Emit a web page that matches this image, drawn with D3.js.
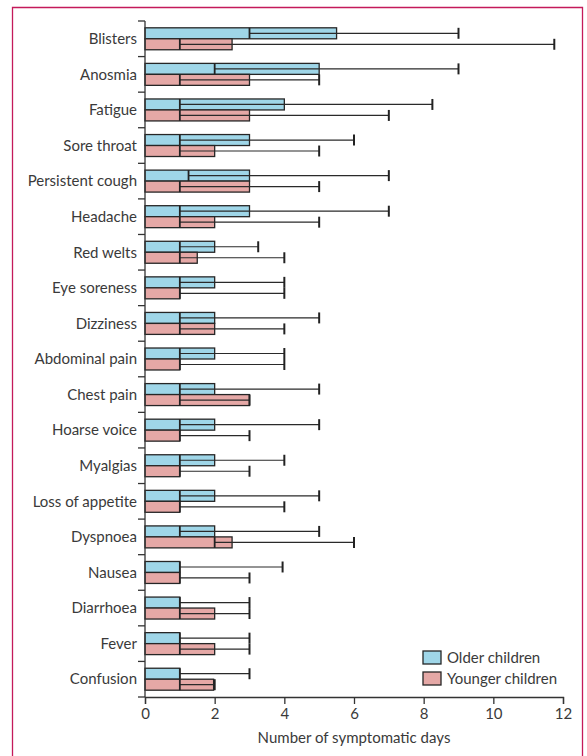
<!DOCTYPE html>
<html>
<head>
<meta charset="utf-8">
<script src="https://cdn.jsdelivr.net/npm/d3@7"></script>
<style>
  html, body { margin: 0; padding: 0; background: #fff; }
  svg { display: block; }
  text { font-family: Lato, "Open Sans", sans-serif; fill: #3a3a3a; }
</style>
</head>
<body>
<script>
const categories = ["Blisters","Anosmia","Fatigue","Sore throat","Persistent cough","Headache","Red welts","Eye soreness","Dizziness","Abdominal pain","Chest pain","Hoarse voice","Myalgias","Loss of appetite","Dyspnoea","Nausea","Diarrhoea","Fever","Confusion"];
const seriesNames = ["Older children","Younger children"];
// bar end, inner line, whisker end
const olderBar     = [5.5,5,4,3,3,3,2,2,2,2,2,2,2,2,2,1,1,1,1];
const olderMedian  = [3,2,1,1,1.25,1,1,1,1,1,1,1,1,1,1,1,1,1,1];
const olderMax     = [9,9,8.25,6,7,7,3.25,4,5,4,5,5,4,5,5,3.95,3,3,3];
const youngerBar    = [2.5,3,3,2,3,2,1.5,1,2,1,3,1,1,1,2.5,1,2,2,1.97];
const youngerMedian = [1,1,1,1,1,1,1,1,1,1,1,1,1,1,2,1,1,1,1];
const youngerMax    = [11.75,5,7,5,5,5,4,4,4,4,3,3,3,4,6,3,3,3,2];
const xTicks = [0,2,4,6,8,10,12];
const colors = ["#9fd6e8","#e5a8a6"];

const W = 587, H = 756;
const svg = d3.select("body").append("svg").attr("width", W).attr("height", H);

// frame
svg.append("path")
  .attr("d", `M12.5,${H+5} V7.5 H582.5 V${H+5}`)
  .attr("fill","none").attr("stroke","#c41a5a").attr("stroke-width",1.3);

const x = d3.scaleLinear().domain([0,12]).range([145,563]);
const y = d3.scaleBand().domain(categories).range([21,697]).padding(0);
const sub = d3.scaleBand().domain(seriesNames).range([0, y.bandwidth()]).paddingInner(0).paddingOuter(0.62);

const series = [
  {name: seriesNames[0], bar: olderBar, med: olderMedian, max: olderMax, color: colors[0]},
  {name: seriesNames[1], bar: youngerBar, med: youngerMedian, max: youngerMax, color: colors[1]}
];

const g = svg.append("g");
series.forEach(s => {
  categories.forEach((c, i) => {
    const y0 = y(c) + sub(s.name);
    const h = sub.bandwidth();
    const ym = y0 + h/2;
    g.append("rect").attr("x", x(0)).attr("y", y0).attr("width", x(s.bar[i]) - x(0)).attr("height", h)
      .attr("fill", s.color).attr("stroke", "#262626").attr("stroke-width", 1.3);
    g.append("line").attr("x1", x(s.med[i])).attr("x2", x(s.max[i])).attr("y1", ym).attr("y2", ym)
      .attr("stroke", "#2a2a2a").attr("stroke-width", 1.2);
    g.append("line").attr("x1", x(s.med[i])).attr("x2", x(s.med[i])).attr("y1", y0).attr("y2", y0 + h)
      .attr("stroke", "#222").attr("stroke-width", 1.8);
    g.append("line").attr("x1", x(s.max[i])).attr("x2", x(s.max[i])).attr("y1", y0).attr("y2", y0 + h)
      .attr("stroke", "#222").attr("stroke-width", 2);
  });
});

// y axis
const yAxisG = svg.append("g");
yAxisG.append("line").attr("x1", x(0)).attr("x2", x(0)).attr("y1", 21).attr("y2", 697)
  .attr("stroke","#333").attr("stroke-width",1.3);
const bounds = categories.map(c => y(c)).concat([y.range()[1]]);
yAxisG.selectAll("line.t").data(bounds).enter().append("line").attr("class","t")
  .attr("x1", x(0) - 7).attr("x2", x(0)).attr("y1", d => d).attr("y2", d => d)
  .attr("stroke","#333").attr("stroke-width",1.3);
yAxisG.selectAll("text").data(categories).enter().append("text")
  .attr("x", x(0) - 8).attr("y", d => y(d) + y.bandwidth()/2)
  .attr("dy","0.35em").attr("text-anchor","end").attr("font-size", 15).text(d => d);

// x axis
const xAxis = d3.axisBottom(x).tickValues(xTicks).tickSize(7).tickPadding(4).tickFormat(d3.format("d"));
const xg = svg.append("g").attr("transform", "translate(0,697)").call(xAxis);
xg.select(".domain").attr("stroke","#333").attr("stroke-width",1.3);
xg.selectAll(".tick line").attr("stroke","#333").attr("stroke-width",1.3);
xg.selectAll(".tick text").attr("font-size", 15).attr("fill","#3a3a3a")
  .style("font-family", 'Lato, "Open Sans", sans-serif');
svg.append("text").attr("x", 354).attr("y", 743).attr("text-anchor","middle").attr("font-size", 15)
  .text("Number of symptomatic days");

// legend
const lg = svg.append("g").attr("transform","translate(423,651)");
series.forEach((s, i) => {
  lg.append("rect").attr("x", 0).attr("y", i*21).attr("width", 18).attr("height", 13)
    .attr("fill", s.color).attr("stroke","#262626").attr("stroke-width",1.3);
  lg.append("text").attr("x", 24).attr("y", i*21 + 6.5).attr("dy","0.35em").attr("font-size", 15).text(s.name);
});
</script>
</body>
</html>
